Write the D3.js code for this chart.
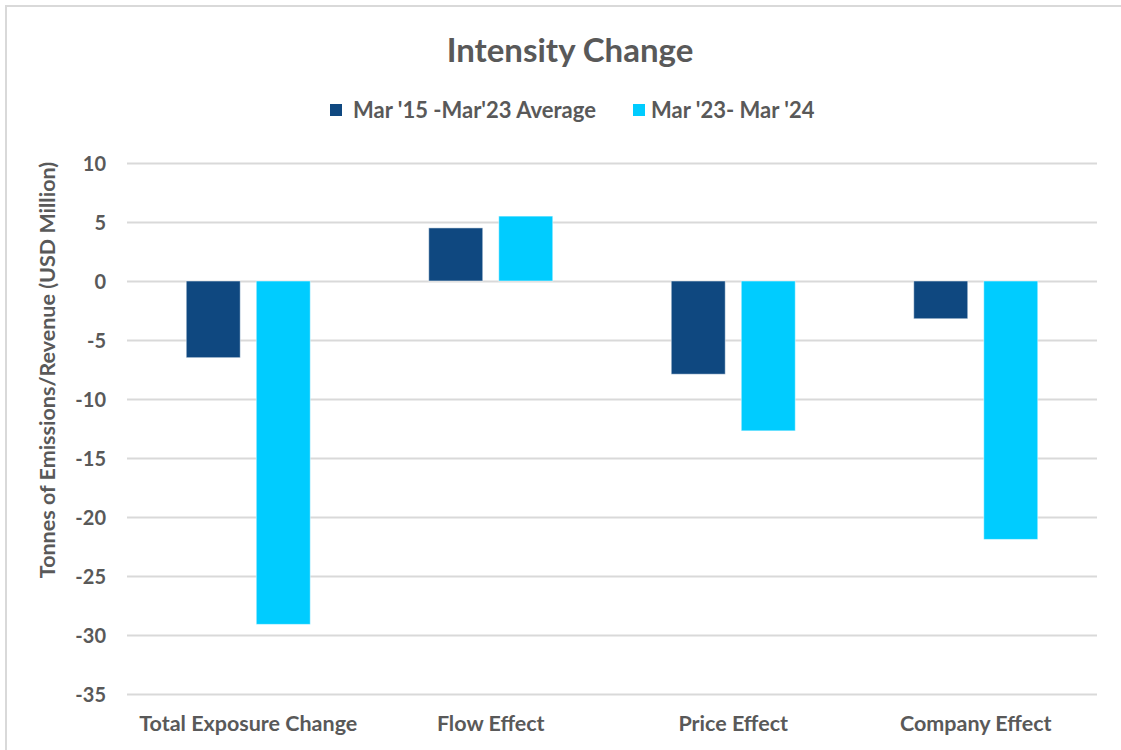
<!DOCTYPE html>
<html>
<head>
<meta charset="utf-8">
<script src="https://cdn.jsdelivr.net/npm/d3@7"></script>
<style>
  html, body { margin: 0; padding: 0; background: #fff; }
  svg { display: block; font-family: Lato, "Open Sans", sans-serif; }
</style>
</head>
<body>
<svg id="chart" width="1121" height="750"></svg>
<script>
const categories = ["Total Exposure Change", "Flow Effect", "Price Effect", "Company Effect"];
const seriesNames = ["Mar '15 -Mar'23 Average", "Mar '23- Mar '24"];
const seriesAvg = [-6.5, 4.5, -7.9, -3.2];
const seriesLatest = [-29.1, 5.5, -12.7, -21.9];
const yTicks = [10, 5, 0, -5, -10, -15, -20, -25, -30, -35];
const colors = ["#0F4880", "#00CCFF"];

const svg = d3.select("#chart");
const W = 1121, H = 750;
const plot = { left: 127, right: 1097, top: 163, bottom: 694 };
const textColor = "#595959";

// border
svg.append("rect").attr("x", 6).attr("y", 6).attr("width", W + 10).attr("height", H + 10)
  .attr("fill", "#fff").attr("stroke", "#d9d9d9").attr("stroke-width", 2);

const x0 = d3.scaleBand().domain(categories).range([plot.left, plot.right]).paddingInner(0).paddingOuter(0);
const x1 = d3.scaleBand().domain(seriesNames).range([0, x0.bandwidth()]).paddingInner(0.2286).paddingOuter(0.846);
const y = d3.scaleLinear().domain([-35, 10]).range([plot.bottom, plot.top]);

// gridlines
const yAxis = d3.axisLeft(y).tickValues(yTicks).tickSize(-(plot.right - plot.left)).tickPadding(21)
  .tickFormat(d => String(d));
const gy = svg.append("g").attr("transform", `translate(${plot.left},0)`).call(yAxis);
gy.select(".domain").remove();
gy.selectAll(".tick line").attr("stroke", "#d9d9d9").attr("stroke-width", 2);
gy.selectAll(".tick text").attr("fill", textColor).attr("font-size", 20).attr("font-weight", "bold")
  .attr("font-family", "Lato, sans-serif").attr("dy", "0.35em");

// bars
const data = categories.map((c, i) => ({ cat: c, vals: [seriesAvg[i], seriesLatest[i]] }));
const groups = svg.append("g").selectAll("g").data(data).join("g")
  .attr("transform", d => `translate(${x0(d.cat)},0)`);
groups.selectAll("rect").data(d => d.vals.map((v, j) => ({ v, s: seriesNames[j], j })))
  .join("rect")
  .attr("x", d => x1(d.s))
  .attr("width", x1.bandwidth())
  .attr("y", d => y(Math.max(0, d.v)))
  .attr("height", d => Math.abs(y(d.v) - y(0)))
  .attr("fill", d => colors[d.j])
  .attr("stroke", "#ffffff").attr("stroke-opacity", 0.5).attr("stroke-width", 1);

// x axis labels
const xAxis = d3.axisBottom(x0).tickSize(0).tickPadding(0);
const gx = svg.append("g").attr("transform", `translate(0,${plot.bottom + 18})`).call(xAxis);
gx.select(".domain").remove();
gx.selectAll(".tick text").attr("fill", textColor).attr("font-size", 21.5).attr("font-weight", "bold")
  .attr("font-family", "Lato, sans-serif").attr("dy", "0.9em");

// title
svg.append("text").attr("x", 570).attr("y", 62).attr("text-anchor", "middle")
  .attr("fill", textColor).attr("font-size", 33).attr("font-weight", "bold").text("Intensity Change");

// legend
const legendItems = [{ name: seriesNames[0], x: 330 }, { name: seriesNames[1], x: 633 }];
const lg = svg.append("g").selectAll("g").data(legendItems).join("g")
  .attr("transform", d => `translate(${d.x},104)`);
lg.append("rect").attr("width", 12).attr("height", 12).attr("fill", (d, i) => colors[i]);
lg.append("text").attr("x", (d, i) => i === 0 ? 23 : 18).attr("y", 6).attr("dy", "0.35em")
  .attr("fill", textColor).attr("font-size", 22).attr("font-weight", "bold").text(d => d.name);

// y axis title
svg.append("text").attr("transform", `translate(55,370) rotate(-90)`)
  .attr("text-anchor", "middle").attr("fill", textColor).attr("font-size", 21.5).attr("font-weight", "bold")
  .text("Tonnes of Emissions/Revenue (USD Million)");
</script>
</body>
</html>
